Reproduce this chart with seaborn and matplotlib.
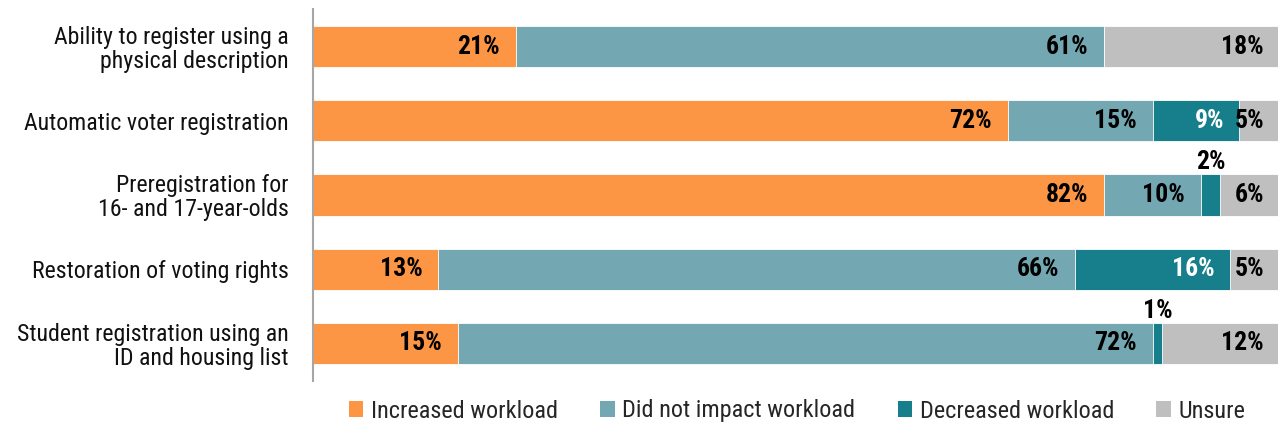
import matplotlib
matplotlib.use("Agg")
import matplotlib.pyplot as plt
from matplotlib.patches import Patch
import numpy as np
import pandas as pd
import seaborn as sns

categories = [
    "Ability to register using a\nphysical description",
    "Automatic voter registration",
    "Preregistration for\n16- and 17-year-olds",
    "Restoration of voting rights",
    "Student registration using an\nID and housing list",
]
series_names = ["Increased workload", "Did not impact workload",
                "Decreased workload", "Unsure"]
increased = [21, 72, 82, 13, 15]
no_impact = [61, 15, 10, 66, 72]
decreased = [0, 9, 2, 16, 1]
unsure = [18, 5, 6, 5, 12]

colors = ["#FD9644", "#73A7B1", "#167F8B", "#BFBFBF"]
label_colors = ["black", "black", "white", "black"]
# inside-end offsets (points) of the value labels per series
label_offsets = [-11.5, -11.5, -11.0, -10.0]

sns.set_theme(style="white")
plt.rcParams["font.family"] = ["Roboto Condensed", "DejaVu Sans"]

values = np.array([increased, no_impact, decreased, unsure], dtype=float)
cum = np.cumsum(values, axis=0)

fig = plt.figure(figsize=(12.78, 4.26), dpi=100)
ax = fig.add_axes([313 / 1278, 1 - 380.5 / 426, 1 - 313 / 1278, (380.5 - 9.5) / 426])

# stacked bars: draw cumulative totals from the outermost segment inwards
for i in range(len(series_names) - 1, -1, -1):
    df = pd.DataFrame({"cat": categories, "val": cum[i]})
    sns.barplot(data=df, x="val", y="cat", orient="h", color=colors[i],
                saturation=1, width=0.555, edgecolor="white", linewidth=0.6,
                ax=ax)

ax.set_xlim(0, 100)
ax.set_ylim(4.5, -0.5)
ax.set_xlabel("")
ax.set_ylabel("")
ax.set_xticks([])
for s in ["top", "right", "bottom"]:
    ax.spines[s].set_visible(False)
ax.spines["left"].set_color("#A6A6A6")
ax.spines["left"].set_linewidth(1.5)
ax.tick_params(axis="y", length=0, pad=17.5, labelsize=17.2, labelcolor="#111111")
for t in ax.get_yticklabels():
    t.set_linespacing(1.05)

# value labels
for i in range(len(series_names)):
    for j in range(len(categories)):
        v = values[i, j]
        if v <= 0:
            continue
        label = f"{int(v)}%"
        if v >= 5:
            end = min(cum[i, j], 100)
            ax.annotate(label, xy=(end, j), xytext=(label_offsets[i], 0),
                        textcoords="offset points", ha="right", va="center",
                        fontsize=18.5, fontweight="bold", color=label_colors[i])
        else:
            mid = cum[i, j] - v / 2
            ax.annotate(label, xy=(mid, j - 0.278), xytext=(0, 0),
                        textcoords="offset points", ha="center", va="bottom",
                        fontsize=18.5, fontweight="bold", color="black")

handles = [Patch(facecolor=c, edgecolor="none") for c in colors]
fig.legend(handles, series_names, loc="center", ncol=4,
           bbox_to_anchor=(797 / 1278, 1 - 411 / 426), frameon=False,
           fontsize=17.5, handlelength=0.6, handleheight=0.6,
           handletextpad=0.3, columnspacing=1.75)

fig.savefig("out.png", dpi=100)
